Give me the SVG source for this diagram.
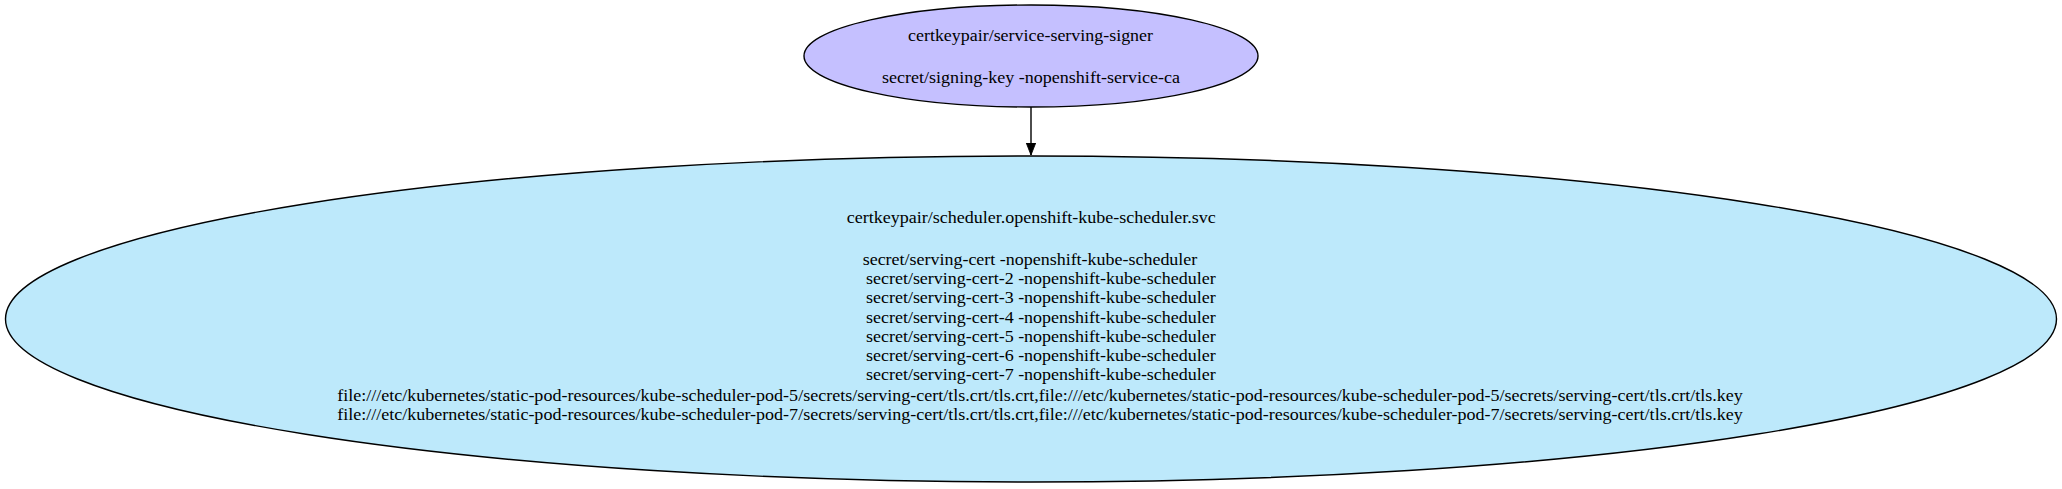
<svg xmlns="http://www.w3.org/2000/svg" width="2062" height="489" viewBox="0 0 2062 489">
<style>
  .lbl { font-family: "Liberation Serif", "Times New Roman", serif; font-size: 16px; fill: #000; }
  .node { stroke: #000; stroke-width: 1.4; }
  .edge { stroke: #000; stroke-width: 1.4; fill: none; }
</style>
<defs>
  <marker id="arrow" markerWidth="12" markerHeight="12" refX="14" refY="5.5" orient="auto" markerUnits="userSpaceOnUse" viewBox="0 0 14 11">
    <polygon points="0,0 14,5.5 0,11" fill="#000" stroke="#000" stroke-width="1"/>
  </marker>
</defs>
<rect width="2062" height="489" fill="#fff"/>
<g id="connectors">
  <path class="edge" d="M1031,107 L1031,155" marker-end="url(#arrow)"/>
</g>
<g id="node-signer">
  <ellipse class="node" cx="1031" cy="56" rx="227" ry="51" fill="#c5c0ff"/>
  <text class="lbl" x="908" y="40.7" textLength="245" lengthAdjust="spacingAndGlyphs">certkeypair/service-serving-signer</text>
  <text class="lbl" x="882" y="83.3" textLength="298" lengthAdjust="spacingAndGlyphs">secret/signing-key -nopenshift-service-ca</text>
</g>
<g id="node-scheduler">
  <ellipse class="node" cx="1031" cy="319" rx="1025.5" ry="163" fill="#bde9fb"/>
  <text class="lbl" x="846.7" y="222.7" textLength="369" lengthAdjust="spacingAndGlyphs">certkeypair/scheduler.openshift-kube-scheduler.svc</text>
  <text class="lbl" x="862.7" y="265" textLength="334.6" lengthAdjust="spacingAndGlyphs">secret/serving-cert -nopenshift-kube-scheduler</text>
  <text class="lbl" x="866" y="284.2" textLength="349.7" lengthAdjust="spacingAndGlyphs">secret/serving-cert-2 -nopenshift-kube-scheduler</text>
  <text class="lbl" x="866" y="303.4" textLength="349.7" lengthAdjust="spacingAndGlyphs">secret/serving-cert-3 -nopenshift-kube-scheduler</text>
  <text class="lbl" x="866" y="322.6" textLength="349.7" lengthAdjust="spacingAndGlyphs">secret/serving-cert-4 -nopenshift-kube-scheduler</text>
  <text class="lbl" x="866" y="341.8" textLength="349.7" lengthAdjust="spacingAndGlyphs">secret/serving-cert-5 -nopenshift-kube-scheduler</text>
  <text class="lbl" x="866" y="361" textLength="349.7" lengthAdjust="spacingAndGlyphs">secret/serving-cert-6 -nopenshift-kube-scheduler</text>
  <text class="lbl" x="866" y="380.2" textLength="349.7" lengthAdjust="spacingAndGlyphs">secret/serving-cert-7 -nopenshift-kube-scheduler</text>
  <text class="lbl" x="337.3" y="400.5" textLength="1405.4" lengthAdjust="spacingAndGlyphs">file:///etc/kubernetes/static-pod-resources/kube-scheduler-pod-5/secrets/serving-cert/tls.crt/tls.crt,file:///etc/kubernetes/static-pod-resources/kube-scheduler-pod-5/secrets/serving-cert/tls.crt/tls.key</text>
  <text class="lbl" x="337.3" y="419.5" textLength="1405.4" lengthAdjust="spacingAndGlyphs">file:///etc/kubernetes/static-pod-resources/kube-scheduler-pod-7/secrets/serving-cert/tls.crt/tls.crt,file:///etc/kubernetes/static-pod-resources/kube-scheduler-pod-7/secrets/serving-cert/tls.crt/tls.key</text>
</g>
</svg>
